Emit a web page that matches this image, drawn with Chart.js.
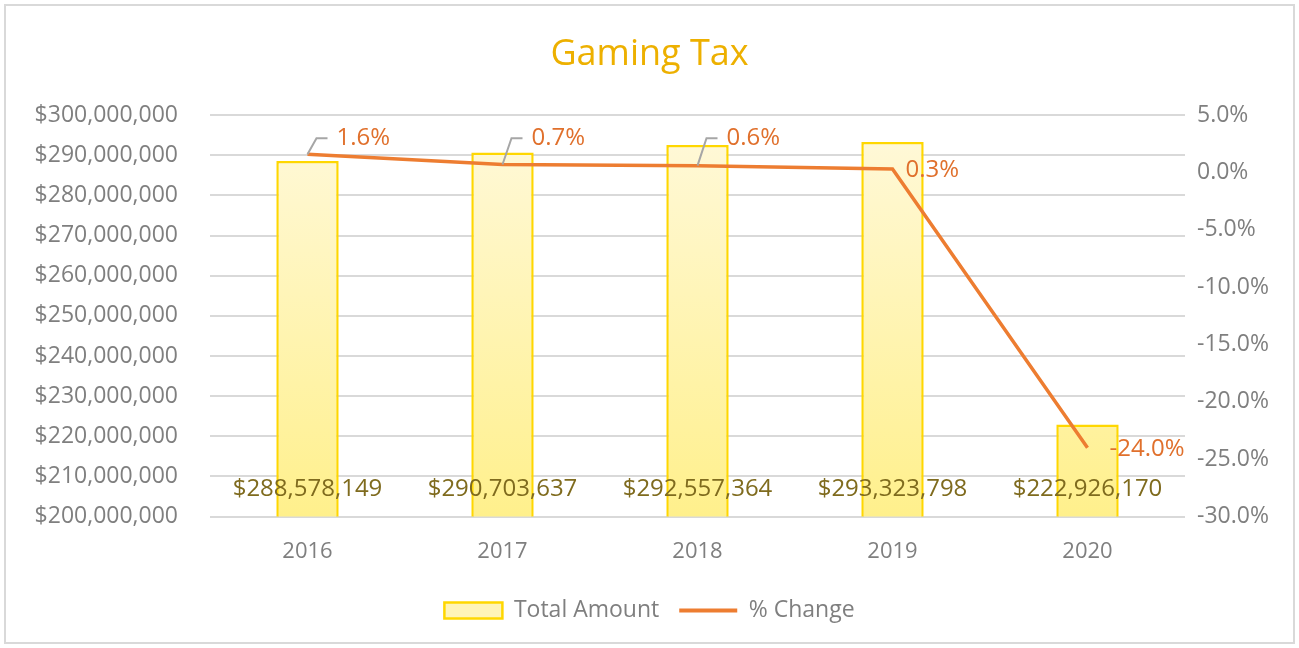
<!DOCTYPE html>
<html>
<head>
<meta charset="utf-8">
<script src="https://cdn.jsdelivr.net/npm/chart.js@4"></script>
<style>
  html, body { margin: 0; padding: 0; background: #fff; }
  #wrap { width: 1299px; height: 648px; }
</style>
</head>
<body>
<div id="wrap"><canvas id="taxChart"></canvas></div>
<script>
const years = ["2016", "2017", "2018", "2019", "2020"];
const totals = [288578149, 290703637, 292557364, 293323798, 222926170];
const pctChange = [1.6, 0.7, 0.6, 0.3, -24.0];

const FONT = "'Open Sans', 'DejaVu Sans', sans-serif";
const ctx = document.getElementById("taxChart").getContext("2d");

// yellow fill, light at top, stronger at the bottom of each bar
function barFill(context) {
  const area = context.chart.chartArea;
  if (!area) return "#FFF4B0";
  const g = context.chart.ctx.createLinearGradient(0, area.top, 0, area.bottom);
  g.addColorStop(0, "#FFF9DC");
  g.addColorStop(1, "#FFF08C");
  return g;
}

const money = (v) => "$" + v.toLocaleString("en-US");

// background + outer frame
const framePlugin = {
  id: "frame",
  beforeDraw(chart) {
    const c = chart.ctx;
    c.save();
    c.fillStyle = "#fff";
    c.fillRect(0, 0, chart.width, chart.height);
    c.strokeStyle = "#D9D9D9";
    c.lineWidth = 2;
    c.strokeRect(5, 5, chart.width - 10, chart.height - 10);
    c.restore();
  },
};

// data labels: amounts near the bottom of the bars, % next to the line
const labelPlugin = {
  id: "valueLabels",
  afterDatasetsDraw(chart) {
    const c = chart.ctx;
    const bars = chart.getDatasetMeta(0).data;
    const pts = chart.getDatasetMeta(1).data;
    const bottom = chart.chartArea.bottom;
    c.save();
    c.font = "24px " + FONT;
    c.textBaseline = "middle";

    c.fillStyle = "#7F6B1E";
    c.textAlign = "center";
    bars.forEach((b, i) => {
      c.fillText(money(totals[i]), b.x, bottom - 27);
    });

    c.fillStyle = "#E0702C";
    c.textAlign = "left";
    pts.forEach((p, i) => {
      const txt = pctChange[i].toFixed(1) + "%";
      if (pctChange[i] >= 0.5) {
        // leader line up and to the right
        const ly = chart.chartArea.top + 23;
        c.strokeStyle = "#A6A6A6";
        c.lineWidth = 2;
        c.beginPath();
        c.moveTo(p.x, p.y);
        c.lineTo(p.x + 9, ly);
        c.lineTo(p.x + 20, ly);
        c.stroke();
        c.fillText(txt, p.x + 29, ly);
      } else if (pctChange[i] >= 0) {
        c.fillText(txt, p.x + 13, p.y + 1);
      } else {
        c.fillText(txt, p.x + 22, p.y + 1);
      }
    });
    c.restore();
  },
};

new Chart(ctx, {
  data: {
    labels: years,
    datasets: [
      {
        type: "bar",
        label: "Total Amount",
        data: totals,
        yAxisID: "y",
        backgroundColor: barFill,
        borderColor: "#FFD700",
        borderWidth: 2.5,
        borderSkipped: false,
        barPercentage: 0.32,
        categoryPercentage: 1,
        order: 2,
      },
      {
        type: "line",
        label: "% Change",
        data: pctChange,
        yAxisID: "y1",
        borderColor: "#ED7D31",
        backgroundColor: "#ED7D31",
        borderWidth: 3.5,
        pointRadius: 0,
        tension: 0,
        order: 1,
      },
    ],
  },
  options: {
    responsive: true,
    maintainAspectRatio: false,
    animation: false,
    layout: { padding: { top: 10, bottom: 16, left: 0, right: 0 } },
    plugins: {
      title: {
        display: true,
        text: "Gaming Tax",
        color: "#EDB000",
        font: { family: FONT, size: 36, weight: "normal" },
        padding: { top: 23, bottom: 39 },
      },
      legend: {
        position: "bottom",
        labels: {
          color: "#7F7F7F",
          font: { family: FONT, size: 23 },
          usePointStyle: true,
          pointStyleWidth: 58,
          boxHeight: 16,
          padding: 20,
          generateLabels(chart) {
            return [
              {
                text: "Total Amount",
                fillStyle: "#FFF4B8",
                strokeStyle: "#FFD700",
                lineWidth: 2.5,
                datasetIndex: 0,
                fontColor: "#7F7F7F",
                pointStyle: "rect",
              },
              {
                text: "% Change",
                fillStyle: "#ED7D31",
                strokeStyle: "#ED7D31",
                lineWidth: 4,
                datasetIndex: 1,
                fontColor: "#7F7F7F",
                pointStyle: "line",
              },
            ];
          },
        },
      },
      tooltip: { enabled: false },
    },
    scales: {
      x: {
        grid: { display: false },
        border: { display: false },
        ticks: { color: "#7F7F7F", font: { family: FONT, size: 22 }, padding: 14 },
      },
      y: {
        position: "left",
        min: 200000000,
        max: 300000000,
        ticks: {
          stepSize: 10000000,
          color: "#7F7F7F",
          font: { family: FONT, size: 23 },
          padding: 32,
          callback: (v) => money(v),
        },
        grid: { color: "#D9D9D9", lineWidth: 2, drawTicks: false },
        border: { display: false },
        afterFit(scale) { scale.width = 210; },
      },
      y1: {
        position: "right",
        min: -30,
        max: 5,
        ticks: {
          stepSize: 5,
          color: "#7F7F7F",
          font: { family: FONT, size: 23 },
          padding: 12,
          callback: (v) => v.toFixed(1) + "%",
        },
        grid: { display: false, drawTicks: false },
        border: { display: false },
        afterFit(scale) { scale.width = 114; },
      },
    },
  },
  plugins: [framePlugin, labelPlugin],
});
</script>
</body>
</html>
